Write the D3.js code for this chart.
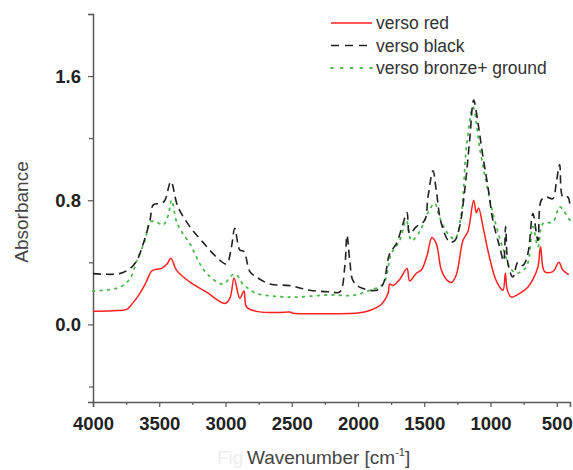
<!DOCTYPE html>
<html><head><meta charset="utf-8">
<script src="https://cdn.jsdelivr.net/npm/d3@7"></script>
<style>body{margin:0;background:#fff}svg{display:block}text{font-family:Arial,"Liberation Sans",sans-serif}</style>
</head><body>
<svg id="c" width="573" height="470"></svg>
<script>
const redWn  = [4000,3850,3746,3708,3646,3600,3557,3520,3482,3440,3412,3369,3269,3143,3005,2967,2935,2892,2861,2841,2766,2600,2515,2490,2213,2000,1911,1823,1773,1761,1736,1685,1630,1610,1559,1522,1480,1442,1409,1371,1333,1295,1258,1208,1170,1127,1107,1090,1057,1007,956,906,888,873,843,780,718,680,642,622,592,529,484,454,409];
const redAbs = [0.084,0.088,0.097,0.129,0.20,0.27,0.344,0.355,0.361,0.39,0.427,0.348,0.273,0.208,0.135,0.168,0.297,0.168,0.215,0.112,0.084,0.076,0.08,0.072,0.069,0.073,0.09,0.13,0.20,0.26,0.25,0.29,0.36,0.28,0.33,0.35,0.44,0.56,0.52,0.35,0.29,0.27,0.32,0.54,0.60,0.80,0.72,0.75,0.63,0.43,0.28,0.22,0.33,0.22,0.176,0.20,0.24,0.29,0.37,0.50,0.34,0.34,0.40,0.35,0.32];

const blackWn  = [4000,3800,3721,3670,3621,3570,3545,3482,3457,3412,3360,3269,3171,3068,2993,2955,2930,2892,2861,2816,2766,2665,2515,2364,2213,2137,2100,2083,2062,2037,1987,1862,1811,1761,1710,1660,1630,1610,1559,1497,1472,1434,1409,1371,1308,1270,1233,1195,1157,1127,1094,1057,1019,982,931,901,886,868,831,793,755,718,680,642,617,579,529,504,478,454,416,400];
const blackAbs = [0.327,0.327,0.36,0.41,0.52,0.67,0.77,0.78,0.80,0.92,0.76,0.63,0.53,0.434,0.39,0.50,0.62,0.48,0.47,0.34,0.305,0.26,0.25,0.22,0.21,0.21,0.37,0.574,0.41,0.28,0.24,0.22,0.26,0.456,0.52,0.65,0.72,0.585,0.63,0.67,0.82,0.99,0.86,0.65,0.53,0.54,0.63,0.86,1.19,1.445,1.295,1.08,0.886,0.67,0.50,0.41,0.63,0.39,0.305,0.40,0.38,0.456,0.714,0.54,0.80,0.82,0.81,0.91,1.03,0.82,0.82,0.76];

const greenWn  = [4000,3796,3721,3670,3608,3570,3520,3472,3434,3407,3369,3322,3269,3193,3133,3020,2945,2917,2870,2841,2766,2515,2213,2037,1911,1811,1748,1685,1635,1597,1534,1472,1421,1384,1321,1270,1220,1182,1132,1082,1031,981,918,893,856,805,730,680,642,604,529,478,416,400];
const greenAbs = [0.215,0.24,0.295,0.41,0.54,0.66,0.66,0.64,0.70,0.80,0.66,0.585,0.52,0.39,0.32,0.26,0.32,0.32,0.26,0.24,0.20,0.176,0.19,0.187,0.22,0.26,0.456,0.54,0.67,0.54,0.60,0.72,0.78,0.69,0.585,0.55,0.714,1.14,1.40,1.14,0.91,0.714,0.52,0.456,0.37,0.33,0.37,0.63,0.50,0.65,0.66,0.757,0.69,0.67];

const xMajor = [4000,3500,3000,2500,2000,1500,1000,500];
const xMinor = [3750,3250,2750,2250,1750,1250,750];
const yMajor = [0.0,0.8,1.6];
const yMinor = [-0.4,0.4,1.2,2.0];
const seriesNames = ["verso red","verso black","verso bronze+ ground"];

const svg = d3.select("#c");
const x = d3.scaleLinear().domain([4000,400]).range([93,570]);
const y = d3.scaleLinear().domain([-0.5,2.0]).range([402,14]);
const axisCol = "#5a5a5a";

// axes
const gx = svg.append("g").attr("transform","translate(0,402)");
gx.call(d3.axisBottom(x).tickValues(xMajor).tickSize(5).tickFormat(d3.format("d")));
const gxm = svg.append("g").attr("transform","translate(0,402)");
gxm.call(d3.axisBottom(x).tickValues(xMinor).tickSize(3).tickFormat(""));
const gy = svg.append("g").attr("transform","translate(93,0)");
gy.call(d3.axisLeft(y).tickValues(yMajor).tickSize(5).tickFormat(d3.format(".1f")));
const gym = svg.append("g").attr("transform","translate(93,0)");
gym.call(d3.axisLeft(y).tickValues(yMinor).tickSize(4).tickFormat(""));
[gx,gxm,gy,gym].forEach(g=>{
  g.selectAll("path.domain").attr("stroke",axisCol).attr("stroke-width",1.5);
  g.selectAll(".tick line").attr("stroke",axisCol).attr("stroke-width",1.2);
  g.selectAll("text").attr("fill","#222").attr("font-size","18.5px").attr("font-weight","bold")
   .attr("font-family","Arial, 'Liberation Sans', sans-serif");
});
gx.selectAll("text").attr("y",15).attr("dy","0.71em");
gy.selectAll("text").attr("x",-12);
gxm.select("path.domain").remove(); gym.select("path.domain").remove();

// lines
const line = d3.line().x(d=>x(d[0])).y(d=>y(d[1])).curve(d3.curveCatmullRom.alpha(0.5));
const zip = (a,b)=>a.map((v,i)=>[v,b[i]]);
svg.append("path").datum(zip(greenWn,greenAbs)).attr("d",line).attr("fill","none")
  .attr("stroke","#4cb84c").attr("stroke-width",1.8).attr("stroke-dasharray","1.8,5.5").attr("stroke-linecap","round");
svg.append("path").datum(zip(blackWn,blackAbs)).attr("d",line).attr("fill","none")
  .attr("stroke","#222").attr("stroke-width",1.6).attr("stroke-dasharray","8,5");
svg.append("path").datum(zip(redWn,redAbs)).attr("d",line).attr("fill","none")
  .attr("stroke","#ff2020").attr("stroke-width",1.5);

// legend
const leg = svg.append("g");
const styles = [
  {c:"#ff2020",da:null,w:1.5},
  {c:"#222",da:"8,6",w:1.6},
  {c:"#4cb84c",da:"1.8,8",w:1.8}
];
seriesNames.forEach((n,i)=>{
  const yy = 23 + i*22.5;
  leg.append("line").attr("x1",331).attr("x2",372).attr("y1",yy).attr("y2",yy)
    .attr("stroke",styles[i].c).attr("stroke-width",styles[i].w)
    .attr("stroke-dasharray",styles[i].da).attr("stroke-linecap", i==2?"round":"butt");
  leg.append("text").attr("x",376).attr("y",yy+6).attr("font-size","17.5px").attr("fill","#333").text(n);
});

// axis titles
svg.append("text").attr("transform","translate(28,212) rotate(-90)").attr("text-anchor","middle")
  .attr("font-size","19px").attr("fill","#444").text("Absorbance");
svg.append("text").attr("x",217).attr("y",464).attr("font-size","19px").attr("fill","#eeeeee").text("Fig");
const t = svg.append("text").attr("x",247).attr("y",464).attr("font-size","19px").attr("fill","#444");
t.append("tspan").text("Wavenumber [cm");
t.append("tspan").attr("dy",-8).attr("font-size","11px").text("-1");
t.append("tspan").attr("dy",8).text("]");
</script>
</body></html>
